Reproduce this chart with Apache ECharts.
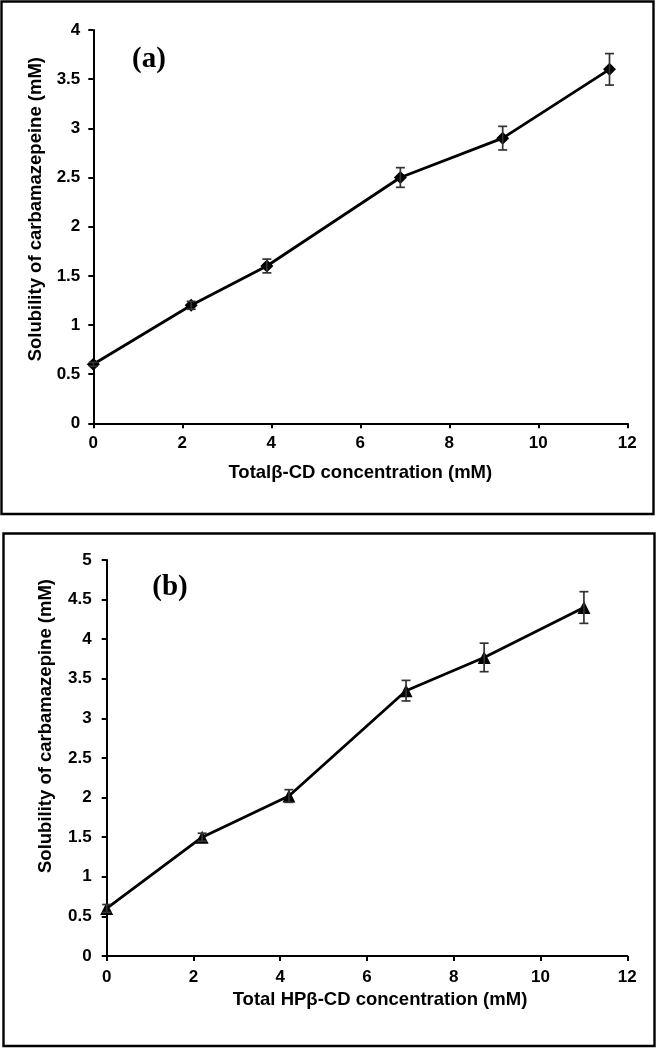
<!DOCTYPE html>
<html>
<head>
<meta charset="utf-8">
<script src="https://cdn.jsdelivr.net/npm/echarts@6/dist/echarts.min.js"></script>
<style>
html,body{margin:0;padding:0;background:#fff;}
#chart{width:657px;height:1048px;}
</style>
</head>
<body>
<div id="chart"></div>
<script>
// Panel (a): beta-CD
const xA = [0, 2.2, 3.9, 6.9, 9.2, 11.6];
const yA = [0.6, 1.2, 1.6, 2.5, 2.9, 3.6];
const errA = [0.02, 0.04, 0.07, 0.1, 0.12, 0.16];
// Panel (b): HP-beta-CD
const xB = [0, 2.2, 4.2, 6.9, 8.7, 11.0];
const yB = [0.6, 1.5, 2.02, 3.35, 3.77, 4.4];
const errB = [0.05, 0.05, 0.08, 0.13, 0.18, 0.2];
// Axis ticks
const xTicks = [0, 2, 4, 6, 8, 10, 12];
const yTicksA = [0, 0.5, 1, 1.5, 2, 2.5, 3, 3.5, 4];
const yTicksB = [0, 0.5, 1, 1.5, 2, 2.5, 3, 3.5, 4, 4.5, 5];
// Texts
const labelA = '(a)';
const labelB = '(b)';
const xNameA = 'Total\u03b2-CD concentration (mM)';
const xNameB = 'Total HP\u03b2-CD concentration (mM)';
const yNameA = 'Solubility of carbamazepeine (mM)';
const yNameB = 'Solubility of carbamazepine (mM)';

const FONT = '"Liberation Sans", Arial, sans-serif';
const chart = echarts.init(document.getElementById('chart'), null, {renderer: 'canvas'});

function xAxisCfg(gridIndex, name, nameGap, pad, margin) {
  return {
    type: 'value', gridIndex: gridIndex,
    min: xTicks[0], max: xTicks[xTicks.length - 1], interval: xTicks[1] - xTicks[0],
    axisLine: {show: true, onZero: false, lineStyle: {color: '#000', width: 2}},
    axisTick: {show: true, inside: false, length: 5, lineStyle: {color: '#000', width: 2}},
    splitLine: {show: false},
    axisLabel: {color: '#000', fontFamily: FONT, fontWeight: 'bold', fontSize: 17, margin: margin},
    name: name, nameLocation: 'middle', nameGap: nameGap,
    nameTextStyle: {color: '#000', fontFamily: FONT, fontWeight: 'bold', fontSize: 18.5, padding: pad}
  };
}
function yAxisCfg(gridIndex, ticks, name, nameGap, pad, margin) {
  return {
    type: 'value', gridIndex: gridIndex,
    min: ticks[0], max: ticks[ticks.length - 1], interval: ticks[1] - ticks[0],
    axisLine: {show: true, onZero: false, lineStyle: {color: '#000', width: 2}},
    axisTick: {show: true, inside: false, length: 5, lineStyle: {color: '#000', width: 2}},
    splitLine: {show: false},
    axisLabel: {color: '#000', fontFamily: FONT, fontWeight: 'bold', fontSize: 17, margin: margin},
    name: name, nameLocation: 'middle', nameGap: nameGap,
    nameTextStyle: {color: '#000', fontFamily: FONT, fontWeight: 'bold', fontSize: 18.5, padding: pad}
  };
}
function zip(xs, ys) { return xs.map((x, i) => [x, ys[i]]); }
function zip3(xs, ys, es) { return xs.map((x, i) => [x, ys[i], es[i]]); }

function errorBarRender(params, api) {
  const x = api.value(0), y = api.value(1), e = api.value(2);
  const hi = api.coord([x, y + e]);
  const lo = api.coord([x, y - e]);
  const cap = 4.5;
  const style = {stroke: '#333', lineWidth: 1.7};
  return {
    type: 'group',
    children: [
      {type: 'line', shape: {x1: hi[0], y1: hi[1], x2: lo[0], y2: lo[1]}, style: style},
      {type: 'line', shape: {x1: hi[0] - cap, y1: hi[1], x2: hi[0] + cap, y2: hi[1]}, style: style},
      {type: 'line', shape: {x1: lo[0] - cap, y1: lo[1], x2: lo[0] + cap, y2: lo[1]}, style: style}
    ]
  };
}

const option = {
  backgroundColor: '#fff',
  animation: false,
  grid: [
    {left: 93.3, top: 30, width: 534, height: 393.3},
    {left: 106.7, top: 560, width: 520.6, height: 396}
  ],
  xAxis: [
    xAxisCfg(0, xNameA, 40, [0, 0, 0, 0], 12),
    xAxisCfg(1, xNameB, 34, [0, 0, 0, 26], 13)
  ],
  yAxis: [
    yAxisCfg(0, yTicksA, yNameA, 42, [0, 0, 0, 35], 13),
    yAxisCfg(1, yTicksB, yNameB, 51, [0, 0, 0, 64], 15)
  ],
  graphic: [
    {type: 'rect', shape: {x: 1.5, y: 1.5, width: 652, height: 512.5}, style: {fill: 'none', stroke: '#000', lineWidth: 2.4}, z: 100},
    {type: 'rect', shape: {x: 3.5, y: 533.5, width: 651, height: 512.5}, style: {fill: 'none', stroke: '#000', lineWidth: 2.4}, z: 100},
    {type: 'text', x: 149, y: 60, style: {text: labelA, fill: '#000', font: 'bold 29px "Liberation Serif", "Times New Roman", serif', textAlign: 'center', textVerticalAlign: 'middle'}},
    {type: 'text', x: 170, y: 588, style: {text: labelB, fill: '#000', font: 'bold 29px "Liberation Serif", "Times New Roman", serif', textAlign: 'center', textVerticalAlign: 'middle'}}
  ],
  series: [
    {
      type: 'line', xAxisIndex: 0, yAxisIndex: 0, data: zip(xA, yA),
      symbol: 'diamond', symbolSize: 13, showAllSymbol: true,
      lineStyle: {color: '#000', width: 2.8}, itemStyle: {color: '#000'}, z: 3
    },
    {
      type: 'custom', xAxisIndex: 0, yAxisIndex: 0, data: zip3(xA, yA, errA),
      renderItem: errorBarRender, encode: {x: 0, y: 1}, z: 4
    },
    {
      type: 'line', xAxisIndex: 1, yAxisIndex: 1, data: zip(xB, yB),
      symbol: 'triangle', symbolSize: 13, showAllSymbol: true,
      lineStyle: {color: '#000', width: 2.8}, itemStyle: {color: '#000'}, z: 3
    },
    {
      type: 'custom', xAxisIndex: 1, yAxisIndex: 1, data: zip3(xB, yB, errB),
      renderItem: errorBarRender, encode: {x: 0, y: 1}, z: 4
    }
  ]
};
chart.setOption(option);
</script>
</body>
</html>
